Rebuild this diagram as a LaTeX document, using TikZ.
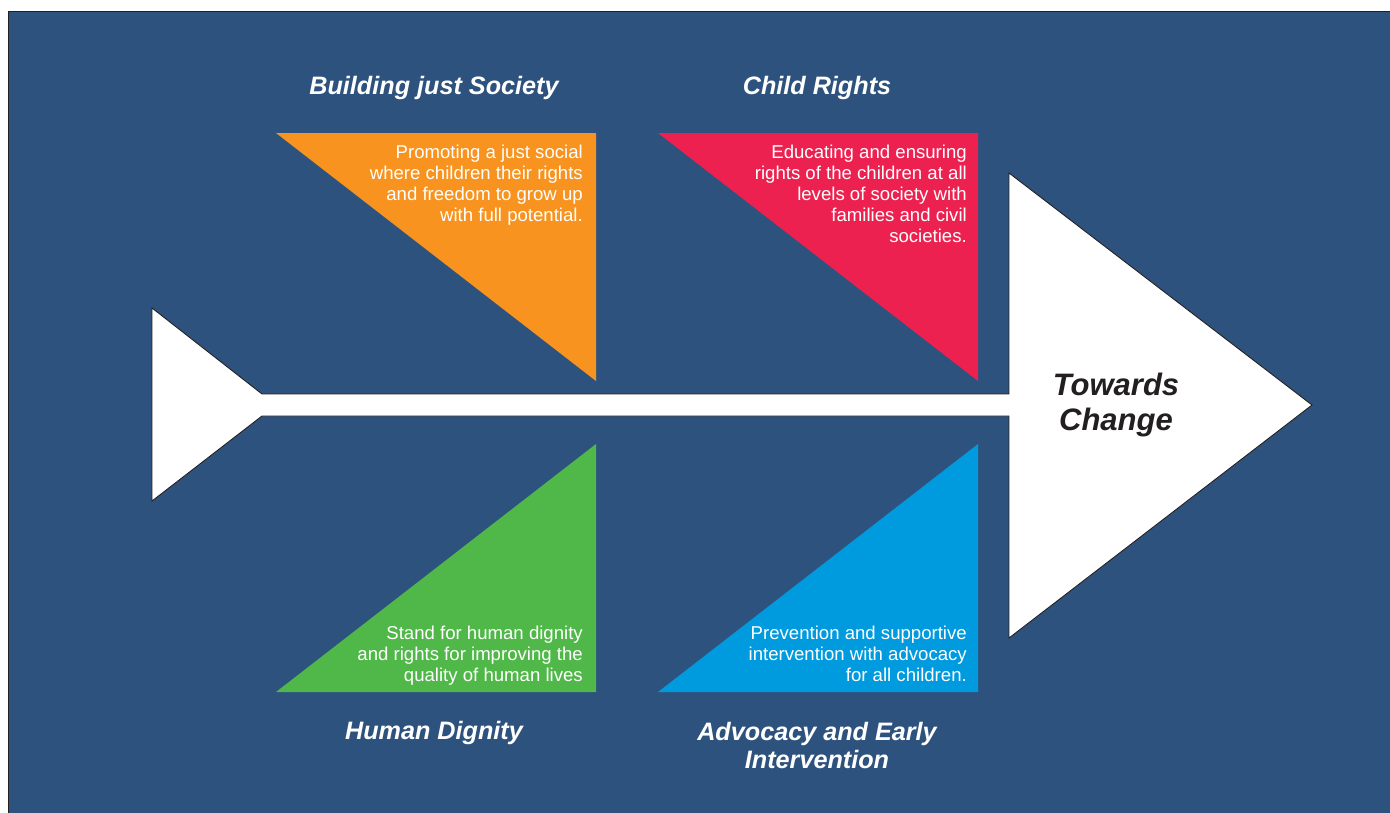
\documentclass[tikz,border=0pt]{standalone}
\usepackage{fontspec}
\setmainfont{Liberation Sans}
\definecolor{bgblue}{HTML}{2E527E}
\definecolor{frame}{HTML}{231F20}
\definecolor{orangeT}{HTML}{F7931E}
\definecolor{redT}{HTML}{ED2150}
\definecolor{greenT}{HTML}{50B848}
\definecolor{blueT}{HTML}{009ADE}
\tikzset{
  title/.style={text=white,font=\fontsize{25.2}{28}\selectfont\bfseries\itshape,align=center,inner sep=0pt},
  body/.style={text=white,font=\fontsize{18.6}{21}\selectfont,align=right,inner sep=0pt,anchor=north east},
}
\begin{document}
\begin{tikzpicture}[x=1pt,y=-1pt]
\useasboundingbox (0,0) rectangle (1390,812);
\fill[white] (0,0) rectangle (1390,812);
\filldraw[fill=bgblue,draw=frame,line width=1pt] (8,11) rectangle (1392,814);
% fishbone arrow
\filldraw[fill=white,draw=frame,line width=0.9pt,line join=miter]
  (152,308) -- (262,394) -- (1009,394) -- (1009,173) -- (1312,405)
  -- (1009,638) -- (1009,416) -- (262,416) -- (152,501) -- cycle;
% triangles
\fill[orangeT] (276,133) -- (596,133) -- (596,381) -- cycle;
\fill[redT] (658,133) -- (978,133) -- (978,381) -- cycle;
\fill[greenT] (596,444) -- (596,692) -- (276,692) -- cycle;
\fill[blueT] (978,444) -- (978,692) -- (658,692) -- cycle;
% titles
\node[title] (t1) at (434,88) {Building just Society};
\node[title] (t2) at (817,88) {Child Rights};
\node[title] (t3) at (434,733) {Human Dignity};
\node[title] (t4) at (817,745) {Advocacy and Early\\Intervention};
\node[text=frame,font=\fontsize{31}{35}\selectfont\bfseries\itshape,align=center,inner sep=0pt] (goal) at (1116,405) {Towards\\Change};
% body texts
\node[body] (b1) at (583,145) {Promoting a just social\\where children their rights\\and freedom to grow up\\with full potential.};
\node[body] (b2) at (967,145) {Educating and ensuring\\rights of the children at all\\levels of society with\\families and civil\\societies.};
\node[body] (b3) at (583,626) {Stand for human dignity\\and rights for improving the\\quality of human lives};
\node[body] (b4) at (967,626) {Prevention and supportive\\intervention with advocacy\\for all children.};
\end{tikzpicture}
\end{document}
